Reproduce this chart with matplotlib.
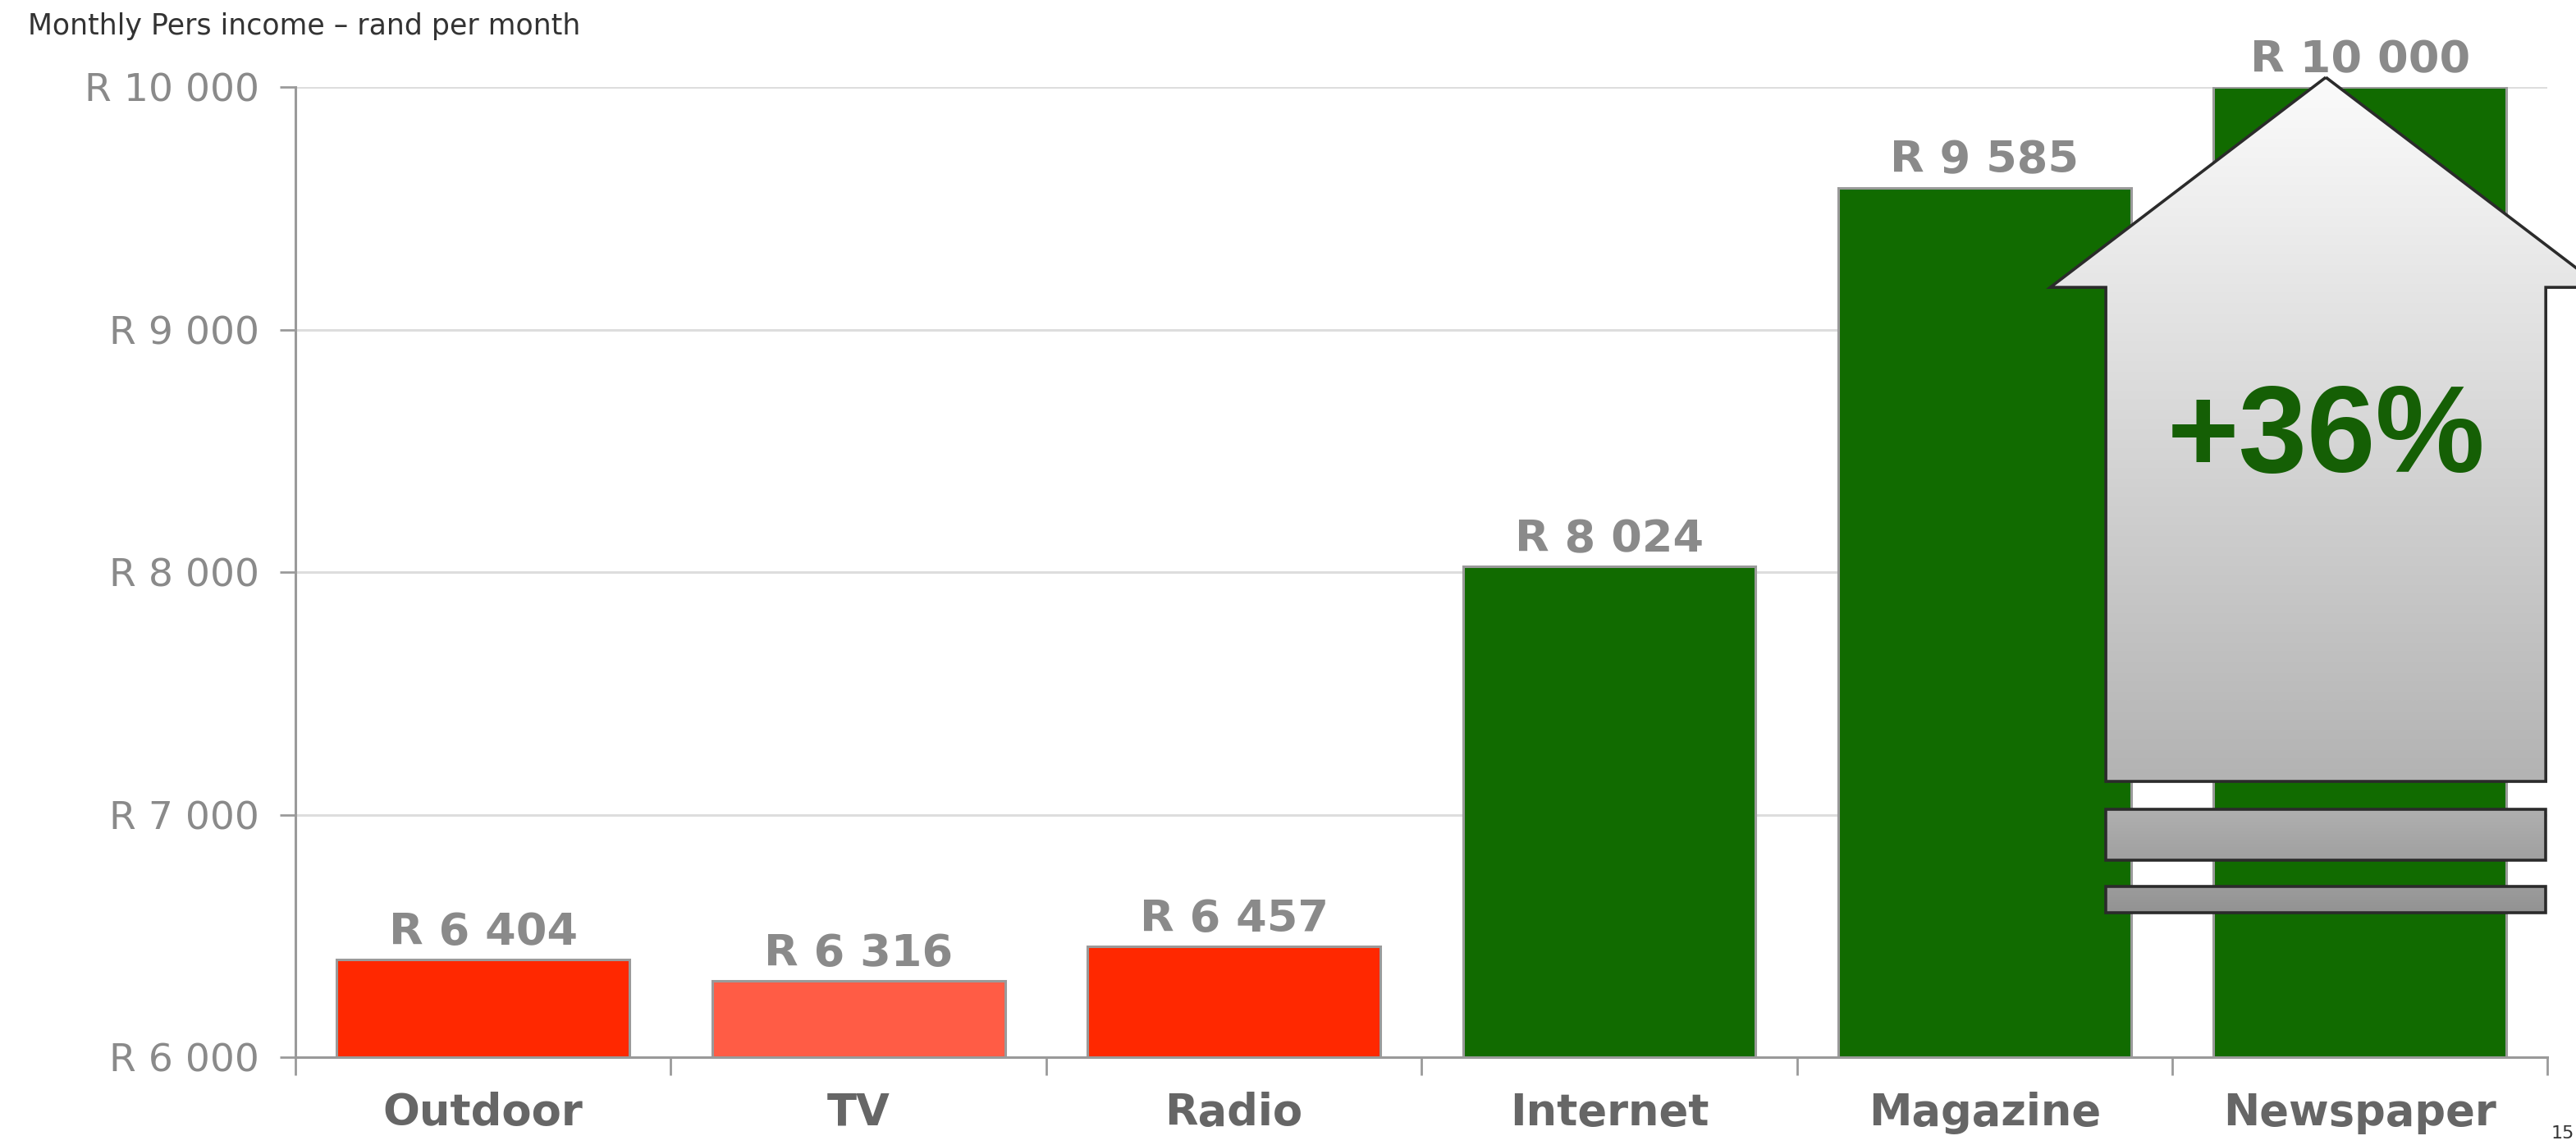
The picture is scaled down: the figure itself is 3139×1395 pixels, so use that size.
import numpy as np
import matplotlib
matplotlib.use('Agg')
import matplotlib.pyplot as plt
from matplotlib.patches import Polygon
from matplotlib.colors import LinearSegmentedColormap

# ── Data ──────────────────────────────────────────────────────────────────────
categories = ['Outdoor', 'TV', 'Radio', 'Internet', 'Magazine', 'Newspaper']
income = [6404, 6316, 6457, 8024, 9585, 10000]
bar_colors = ['#FF2800', '#FF5C45', '#FF2800', '#116B00', '#116B00', '#116B00']
y_ticks = [6000, 7000, 8000, 9000, 10000]
growth_label = '+36%'
title = 'Monthly Pers income \u2013 rand per month'
page_no = '15'


def rand_fmt(v):
    s = f'{v:,.0f}'.replace(',', ' ')
    return f'R {s}'


def gradient_shape(ax, verts, top_col, bot_col, z):
    """Polygon filled with a vertical gradient, allowed to spill outside the axes."""
    poly = Polygon(verts, closed=True, facecolor='none', edgecolor='#2b2b2b',
                   linewidth=2.6, zorder=z + 1, clip_on=False)
    ax.add_patch(poly)
    xs = [p[0] for p in verts]
    ys = [p[1] for p in verts]
    cmap = LinearSegmentedColormap.from_list('g', [top_col, bot_col])
    grad = np.linspace(0, 1, 256).reshape(-1, 1)
    im = ax.imshow(grad, cmap=cmap, aspect='auto', origin='upper',
                   extent=(min(xs), max(xs), min(ys), max(ys)), zorder=z,
                   interpolation='bilinear')
    im.set_clip_path(poly)
    im.set_clip_box(ax.figure.bbox)
    return poly


fig = plt.figure(figsize=(31.39, 13.95), dpi=100)
ax = fig.add_axes([0.1147, 0.0767, 0.8743, 0.8473])

x = np.arange(len(categories))
ax.bar(x, [v - 6000 for v in income], bottom=6000, width=0.78,
       color=bar_colors, edgecolor='#9a9a9a', linewidth=2.2, zorder=3)

for xi, v in zip(x, income):
    ax.annotate(rand_fmt(v), (xi, v), xytext=(0, 5), textcoords='offset points',
                ha='center', va='bottom', fontsize=39, fontweight='bold',
                color='#8a8a8a', zorder=4)

ax.set_xlim(-0.5, len(categories) - 0.5)
ax.set_ylim(6000, 10000)

ax.set_yticks(y_ticks)
ax.set_yticklabels([rand_fmt(v) for v in y_ticks], fontsize=34, color='#8a8a8a')
ax.set_xticks(x)
ax.set_xticklabels(categories, fontsize=38, fontweight='bold', color='#666666')
ax.set_xticks(np.arange(-0.5, len(categories)), minor=True)
ax.tick_params(axis='x', which='major', length=0, pad=30)
ax.tick_params(axis='x', which='minor', length=16, width=2, color='#9a9a9a',
               direction='out')
ax.tick_params(axis='y', length=14, width=2, color='#9a9a9a', pad=18)

ax.grid(axis='y', color='#dddddd', linewidth=2.2, zorder=0)
ax.set_axisbelow(True)
for side in ['top', 'right']:
    ax.spines[side].set_visible(False)
for side in ['left', 'bottom']:
    ax.spines[side].set_color('#9a9a9a')
    ax.spines[side].set_linewidth(2.2)
    ax.spines[side].set_zorder(3.5)

# ── Big "up" arrow annotation over the Newspaper bar ─────────────────────────
apex_x, shaft_l, shaft_r = 4.909, 4.323, 5.495
tip_l, tip_r = 4.175, 5.644
y_apex, y_shoulder, y_shaft_bot = 10040, 9174, 7137
arrow = [(apex_x, y_apex), (tip_r, y_shoulder), (shaft_r, y_shoulder),
         (shaft_r, y_shaft_bot), (shaft_l, y_shaft_bot), (shaft_l, y_shoulder),
         (tip_l, y_shoulder)]
gradient_shape(ax, arrow, '#fbfbfb', '#b3b3b3', 6)

for (y_top, y_bot, c1, c2) in [(7022, 6812, '#b0b0b0', '#a0a0a0'),
                               (6704, 6596, '#9c9c9c', '#929292')]:
    rect = [(shaft_l, y_top), (shaft_r, y_top), (shaft_r, y_bot), (shaft_l, y_bot)]
    gradient_shape(ax, rect, c1, c2, 6)

ax.text(apex_x, 8545, growth_label, ha='center', va='center', fontsize=108,
        fontweight='bold', family='Liberation Sans', color='#155F05', zorder=8)

fig.text(0.0108, 0.989, title, ha='left', va='top', fontsize=25, color='#333333')
fig.text(0.9995, 0.003, page_no, ha='right', va='bottom', fontsize=16, color='#333333')

fig.savefig('out.png', dpi=100)
